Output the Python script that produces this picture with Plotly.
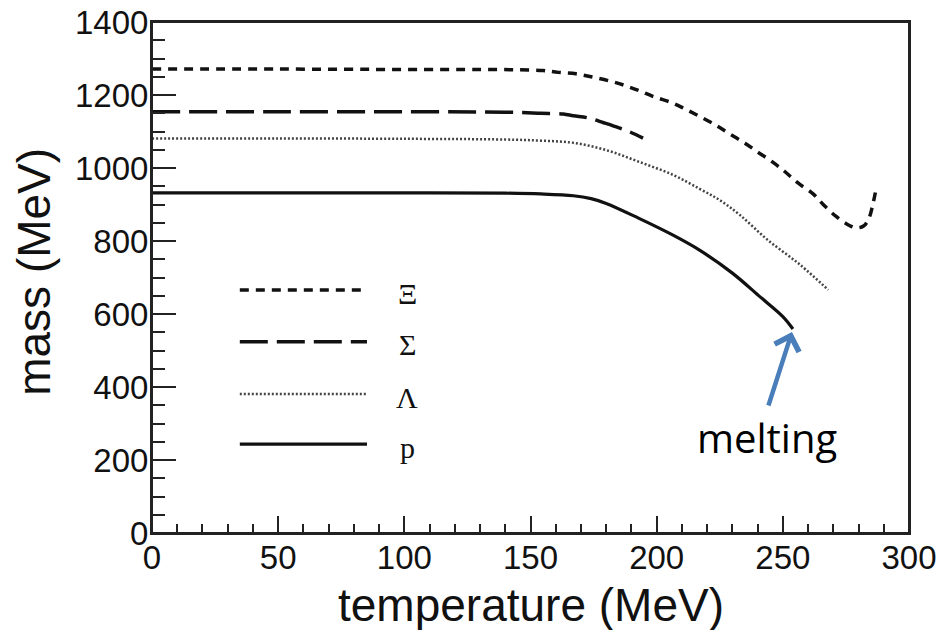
import plotly.graph_objects as go

# ---- data ----
temp_xi = [0, 50, 100, 130, 145, 155, 161, 168, 174, 181, 187, 193, 199, 206, 212, 218, 224, 229, 235, 240, 246, 251, 256, 262, 266, 271, 276, 279, 282, 284, 285.5, 287]
mass_xi = [1271, 1271, 1270, 1270, 1269, 1267, 1262, 1258, 1250, 1239, 1227, 1212, 1195, 1179, 1159, 1138, 1115, 1093, 1068, 1044, 1016, 989, 959, 929, 900, 868, 844, 836, 841, 860, 895, 945]

temp_sigma = [0, 50, 100, 140, 154, 163, 167, 173, 179, 183, 189, 194.6]
mass_sigma = [1154, 1154, 1154, 1153, 1150, 1148, 1143, 1137, 1124, 1115, 1100, 1082]

temp_lambda = [0, 50, 100, 140, 154, 167, 180, 193, 206.5, 217, 225, 233, 244, 257, 268]
mass_lambda = [1081, 1081, 1080, 1078, 1075, 1069, 1049, 1017, 981, 943, 912, 871, 803, 734, 666]

temp_p = [0, 50, 100, 140, 154, 167, 174, 180, 193, 206.5, 217, 230, 241, 250, 254]
mass_p = [932, 932, 932, 931, 929, 924, 916, 903, 862, 816, 775, 712, 647, 593, 559]

labels = ["\u039e", "\u03a3", "\u039b", "p"]
x_ticks = [0, 50, 100, 150, 200, 250, 300]
y_ticks = [0, 200, 400, 600, 800, 1000, 1200, 1400]

# ---- styles ----
styles = [
    dict(width=3.5, dash="9px,7px", color="#111111"),
    dict(width=3.5, dash="28px,9px", color="#111111"),
    dict(width=2.5, dash="2px,2px", color="#444444"),
    dict(width=3.2, dash="solid", color="#111111"),
]
series = [(temp_xi, mass_xi), (temp_sigma, mass_sigma), (temp_lambda, mass_lambda), (temp_p, mass_p)]

fig = go.Figure()
for (t, m), st, lab in zip(series, styles, labels):
    fig.add_trace(go.Scatter(x=t, y=m, mode="lines", name=lab,
                             line=dict(width=st["width"], dash=st["dash"], color=st["color"],
                                       shape="spline", smoothing=1.0),
                             showlegend=False, hoverinfo="x+y+name"))

# ---- plot frame ----
fig.add_shape(type="rect", xref="paper", yref="paper", x0=0, x1=1, y0=0, y1=1,
              line=dict(width=2, color="#222222"), layer="above")

# ---- hand-drawn legend (paper coordinates) ----
leg_y = [0.4755, 0.3744, 0.272, 0.174]
for st, lab, yy in zip(styles, labels, leg_y):
    fig.add_shape(type="line", xref="paper", yref="paper", x0=0.116, x1=0.284, y0=yy, y1=yy,
                  line=dict(width=st["width"], dash=st["dash"], color=st["color"]))
    fig.add_annotation(xref="paper", yref="paper", x=0.337, y=yy - 0.006, text=lab, showarrow=False,
                       xanchor="center", yanchor="middle",
                       font=dict(family="Liberation Serif", size=30, color="#111111"))

# ---- melting arrow + label ----
fig.add_annotation(xref="paper", yref="paper", x=0.8454, y=0.3933, ax=-24, ay=75,
                   axref="pixel", ayref="pixel", text="", showarrow=True,
                   arrowhead=4, arrowsize=1.1, arrowwidth=4.5, arrowcolor="#4a7ebb")
fig.add_annotation(xref="paper", yref="paper", x=0.8124, y=0.186, text="melting", showarrow=False,
                   xanchor="center", yanchor="middle",
                   font=dict(family="Open Sans", size=40, color="#000000"))

axis_font = dict(family="Liberation Sans, Arial", size=33, color="#111111")
title_font = dict(family="Liberation Sans, Arial", size=46, color="#111111")

# axis titles as annotations
fig.add_annotation(xref="paper", yref="paper", x=0.5, y=-0.141, text="temperature (MeV)",
                   showarrow=False, xanchor="center", yanchor="middle", font=title_font)
fig.add_annotation(xref="paper", yref="paper", x=-0.156, y=0.511, text="mass (MeV)", textangle=-90,
                   showarrow=False, xanchor="center", yanchor="middle", font=title_font)

fig.update_xaxes(range=[0, 300], tickvals=x_ticks, ticktext=[str(v) for v in x_ticks],
                 ticks="inside", ticklen=17, tickwidth=2, tickcolor="#222222",
                 minor=dict(dtick=10, ticks="inside", ticklen=9, tickwidth=2, tickcolor="#222222"),
                 showline=True, linewidth=2, linecolor="#222222", mirror=True,
                 showgrid=False, zeroline=False, tickfont=axis_font, automargin=False,
                 ticklabeloverflow="allow", ticklabelstandoff=-6)
fig.update_yaxes(range=[0, 1400], tickvals=y_ticks, ticktext=[str(v) for v in y_ticks],
                 ticks="inside", ticklen=24, tickwidth=2, tickcolor="#222222",
                 minor=dict(dtick=50, ticks="inside", ticklen=13, tickwidth=2, tickcolor="#222222"),
                 showline=True, linewidth=2, linecolor="#222222", mirror=True,
                 showgrid=False, zeroline=False, tickfont=axis_font, automargin=False,
                 ticklabeloverflow="allow", ticklabelstandoff=-5)

fig.update_layout(width=939, height=630, margin=dict(l=152, r=30, t=22, b=97),
                  paper_bgcolor="white", plot_bgcolor="white")

# remove the default 8px page margin so the figure fills the 939x630 window exactly
fig.write_html("out.html", config={"displayModeBar": False},
               post_script="document.body.style.margin='0';document.body.style.overflow='hidden';")
